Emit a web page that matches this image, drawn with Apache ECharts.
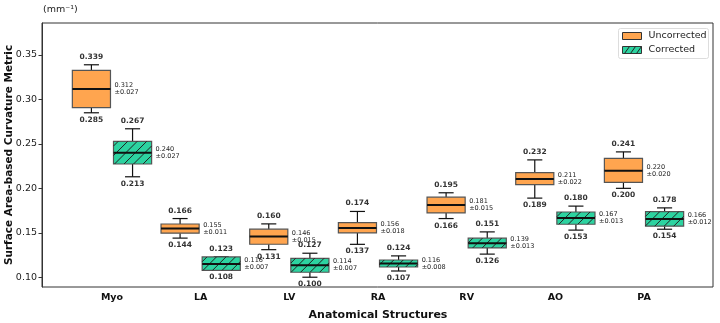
<!DOCTYPE html>
<html>
<head>
    <meta charset="utf-8" />
    <title>Curvature boxplot</title>
    <script src="https://cdn.jsdelivr.net/npm/echarts@6/dist/echarts.min.js"></script>
</head>
<body style="margin:0">
    <div id="main" style="width: 720px;height:323px;"></div>
    <script type="text/javascript">
        var categories = ['Myo', 'LA', 'LV', 'RA', 'RV', 'AO', 'PA'];
        var yTicks = [0.10, 0.15, 0.20, 0.25, 0.30, 0.35];

        // Uncorrected
        var uncMin = [0.285, 0.144, 0.131, 0.137, 0.166, 0.189, 0.200];
        var uncQ1 = [0.2907, 0.1495, 0.1371, 0.1498, 0.1723, 0.2041, 0.2068];
        var uncMedian = [0.3118, 0.1547, 0.1457, 0.1554, 0.1813, 0.2106, 0.2199];
        var uncQ3 = [0.3328, 0.1599, 0.1540, 0.1614, 0.1900, 0.2176, 0.2338];
        var uncMax = [0.339, 0.166, 0.160, 0.174, 0.195, 0.232, 0.241];
        var uncMean = [0.312, 0.155, 0.146, 0.156, 0.181, 0.211, 0.220];
        var uncSd = [0.027, 0.011, 0.015, 0.018, 0.015, 0.022, 0.020];

        // Corrected
        var corMin = [0.213, 0.108, 0.100, 0.107, 0.126, 0.153, 0.154];
        var corQ1 = [0.2274, 0.1078, 0.1056, 0.1115, 0.1330, 0.1596, 0.1574];
        var corMedian = [0.2400, 0.1150, 0.1134, 0.1155, 0.1382, 0.1667, 0.1656];
        var corQ3 = [0.2529, 0.1228, 0.1213, 0.1194, 0.1439, 0.1734, 0.1738];
        var corMax = [0.267, 0.123, 0.127, 0.124, 0.151, 0.180, 0.178];
        var corMean = [0.240, 0.116, 0.114, 0.116, 0.139, 0.167, 0.166];
        var corSd = [0.027, 0.007, 0.007, 0.008, 0.013, 0.013, 0.012];

        var FONT = 'DejaVu Sans';
        var ORANGE = '#FFA54F';
        var GREEN = '#2CD3A0';

        function rows(mn, q1, md, q3, mx, mean, sd) {
            return categories.map(function (c, i) {
                return [i, mn[i], q1[i], md[i], q3[i], mx[i], mean[i], sd[i]];
            });
        }

        function hatchLines(x0, y0, x1, y1, step) {
            var out = [];
            for (var c = x0 + y0 + step / 2; c < x1 + y1; c += step) {
                var xa = Math.max(x0, c - y1);
                var xb = Math.min(x1, c - y0);
                if (xb - xa < 0.5) continue;
                out.push({
                    type: 'line',
                    shape: { x1: xa, y1: c - xa, x2: xb, y2: c - xb },
                    style: { stroke: '#222', lineWidth: 1 }
                });
            }
            return out;
        }

        function boxRenderer(side, fill, hatch) {
            return function (params, api) {
                var ci = api.value(0);
                var band = api.size([1, 0])[0];
                var cx = api.coord([ci, 0])[0] + side * band * 0.232;
                var half = band * 0.215;
                var cap = band * 0.085;
                var yMin = api.coord([ci, api.value(1)])[1];
                var yQ1 = api.coord([ci, api.value(2)])[1];
                var yMd = api.coord([ci, api.value(3)])[1];
                var yQ3 = api.coord([ci, api.value(4)])[1];
                var yMax = api.coord([ci, api.value(5)])[1];
                var ln = { stroke: '#111', lineWidth: 1.2 };
                var children = [
                    { type: 'line', shape: { x1: cx, y1: yQ3, x2: cx, y2: yMax }, style: ln },
                    { type: 'line', shape: { x1: cx, y1: yQ1, x2: cx, y2: yMin }, style: ln },
                    { type: 'line', shape: { x1: cx - cap, y1: yMax, x2: cx + cap, y2: yMax }, style: ln },
                    { type: 'line', shape: { x1: cx - cap, y1: yMin, x2: cx + cap, y2: yMin }, style: ln },
                    {
                        type: 'rect',
                        shape: { x: cx - half, y: yQ3, width: half * 2, height: yQ1 - yQ3 },
                        style: { fill: fill, stroke: '#555', lineWidth: 1.2 }
                    }
                ];
                if (hatch) {
                    children = children.concat(hatchLines(cx - half, yQ3, cx + half, yQ1, 9.5));
                }
                children.push(
                    { type: 'line', shape: { x1: cx - half, y1: yMd, x2: cx + half, y2: yMd }, style: { stroke: '#111', lineWidth: 2 } },
                    {
                        type: 'text',
                        style: {
                            text: api.value(5).toFixed(3), x: cx, y: yMax - 4,
                            align: 'center', verticalAlign: 'bottom',
                            font: 'bold 7.5px "' + FONT + '"', fill: '#333'
                        }
                    },
                    {
                        type: 'text',
                        style: {
                            text: api.value(1).toFixed(3), x: cx, y: yMin + 3,
                            align: 'center', verticalAlign: 'top',
                            font: 'bold 7.5px "' + FONT + '"', fill: '#333'
                        }
                    },
                    {
                        type: 'text',
                        style: {
                            text: api.value(6).toFixed(3) + '\n\u00b1' + api.value(7).toFixed(3),
                            x: cx + half + 4, y: yMd,
                            align: 'left', verticalAlign: 'middle', lineHeight: 7,
                            font: '6.5px "' + FONT + '"', fill: '#222'
                        }
                    }
                );
                return { type: 'group', children: children };
            };
        }

        var myChart = echarts.init(document.getElementById('main'));

        var option = {
            animation: false,
            backgroundColor: '#fff',
            textStyle: { fontFamily: FONT },
            grid: [
                { left: 42, right: 7, top: 23, bottom: 36, outerBoundsMode: 'none', show: true, borderColor: '#333', borderWidth: 1, backgroundColor: 'transparent' },
                { left: 67.65, right: 31.65, top: 23, bottom: 36, outerBoundsMode: 'none' }
            ],
            xAxis: [
                { type: 'value', gridIndex: 0, show: false, min: 0, max: 1 },
                {
                    type: 'category', gridIndex: 1, data: categories,
                    axisLine: { show: false },
                    axisTick: { alignWithLabel: true, length: 3.5, lineStyle: { color: '#333' } },
                    axisLabel: { color: '#111', fontWeight: 'bold', fontSize: 9.5, margin: 6 },
                    name: 'Anatomical Structures', nameLocation: 'middle', nameGap: 23, nameMoveOverlap: false,
                    nameTextStyle: { color: '#111', fontWeight: 'bold', fontSize: 11 }
                }
            ],
            yAxis: [
                {
                    type: 'value', gridIndex: 0, min: 0.089, max: 0.386,
                    splitLine: { show: false },
                    axisLine: { show: true, lineStyle: { color: '#333' } },
                    axisTick: { show: true, length: 3.5, customValues: yTicks, lineStyle: { color: '#333' } },
                    axisLabel: {
                        customValues: yTicks, color: '#222', fontSize: 9.5, margin: 5,
                        formatter: function (v) { return v.toFixed(2); }
                    },
                    name: 'Surface Area-based Curvature Metric', nameLocation: 'middle', nameRotate: 90, nameGap: 27, nameMoveOverlap: false,
                    nameTextStyle: { color: '#111', fontWeight: 'bold', fontSize: 10.5 }
                },
                { type: 'value', gridIndex: 1, min: 0.089, max: 0.386, show: false }
            ],
            graphic: [
                { type: 'text', left: 43, top: 5, style: { text: '(mm\u207b\u00b9)', font: '9.5px "' + FONT + '"', fill: '#222' } },
                {
                    type: 'group', left: 618, top: 28,
                    children: [
                        { type: 'rect', shape: { x: 0, y: 0, width: 90, height: 30, r: 2 }, style: { fill: '#fff', stroke: '#ddd', lineWidth: 1 } },
                        { type: 'rect', shape: { x: 4, y: 4, width: 19, height: 7 }, style: { fill: ORANGE, stroke: '#333', lineWidth: 1 } },
                        { type: 'text', x: 30, y: 7.5, style: { text: 'Uncorrected', font: '9.5px "' + FONT + '"', fill: '#222', verticalAlign: 'middle' } },
                        { type: 'rect', shape: { x: 4, y: 18, width: 19, height: 7 }, style: { fill: GREEN, stroke: '#333', lineWidth: 1 } },
                        { type: 'line', shape: { x1: 6, y1: 25, x2: 11, y2: 18 }, style: { stroke: '#222', lineWidth: 1 } },
                        { type: 'line', shape: { x1: 12, y1: 25, x2: 17, y2: 18 }, style: { stroke: '#222', lineWidth: 1 } },
                        { type: 'line', shape: { x1: 18, y1: 25, x2: 23, y2: 18 }, style: { stroke: '#222', lineWidth: 1 } },
                        { type: 'text', x: 30, y: 21.5, style: { text: 'Corrected', font: '9.5px "' + FONT + '"', fill: '#222', verticalAlign: 'middle' } }
                    ]
                }
            ],
            series: [
                {
                    name: 'Uncorrected', type: 'custom', xAxisIndex: 1, yAxisIndex: 1,
                    renderItem: boxRenderer(-1, ORANGE, false),
                    data: rows(uncMin, uncQ1, uncMedian, uncQ3, uncMax, uncMean, uncSd)
                },
                {
                    name: 'Corrected', type: 'custom', xAxisIndex: 1, yAxisIndex: 1,
                    renderItem: boxRenderer(1, GREEN, true),
                    data: rows(corMin, corQ1, corMedian, corQ3, corMax, corMean, corSd)
                }
            ]
        };

        myChart.setOption(option);
    </script>
</body>
</html>
